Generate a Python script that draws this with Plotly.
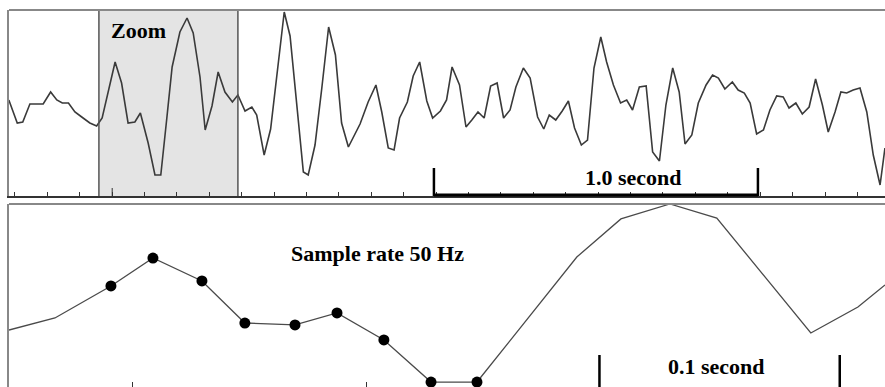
import plotly.graph_objects as go

# ---------------- data (seconds, arbitrary amplitude units) ----------------
wave_t = [-0.019, 0.007, 0.024, 0.046, 0.087, 0.110, 0.129, 0.146, 0.165, 0.185,
          0.206, 0.231, 0.252, 0.269, 0.309, 0.329, 0.349, 0.370, 0.387, 0.411,
          0.432, 0.450, 0.468, 0.485, 0.509, 0.531, 0.550, 0.571, 0.587, 0.608,
          0.627, 0.648, 0.671, 0.688, 0.710, 0.731, 0.746, 0.769, 0.789, 0.808,
          0.831, 0.849, 0.869, 0.890, 0.905, 0.926, 0.947, 0.968, 0.989, 1.008,
          1.029, 1.065, 1.090, 1.114, 1.132, 1.152, 1.170, 1.187, 1.211, 1.229,
          1.249, 1.271, 1.289, 1.313, 1.332, 1.349, 1.372, 1.392, 1.410, 1.429,
          1.448, 1.468, 1.488, 1.508, 1.528, 1.546, 1.569, 1.590, 1.613, 1.632,
          1.649, 1.669, 1.689, 1.708, 1.727, 1.748, 1.767, 1.787, 1.808, 1.826,
          1.847, 1.869, 1.888, 1.906, 1.927, 1.948, 1.968, 1.989, 2.009, 2.030,
          2.050, 2.068, 2.089, 2.109, 2.133, 2.153, 2.171, 2.191, 2.214, 2.232,
          2.251, 2.269, 2.289, 2.310, 2.330, 2.351, 2.371, 2.389, 2.410, 2.430,
          2.451, 2.471, 2.492, 2.510, 2.531, 2.549, 2.567, 2.587, 2.608, 2.629,
          2.649, 2.670, 2.685]
wave_amp = [0.00, -0.23, -0.22, -0.04, -0.04, 0.08, 0.00, -0.03, -0.03, -0.12,
            -0.17, -0.23, -0.26, -0.18, 0.38, 0.17, -0.23, -0.22, -0.13, -0.43,
            -0.75, -0.75, -0.20, 0.33, 0.68, 0.82, 0.67, 0.23, -0.30, -0.06,
            0.28, 0.08, -0.02, 0.05, -0.11, -0.07, -0.15, -0.55, -0.29, 0.26,
            0.88, 0.64, -0.05, -0.72, -0.75, -0.45, 0.12, 0.73, 0.45, -0.23,
            -0.47, -0.24, -0.02, 0.15, -0.12, -0.48, -0.50, -0.18, -0.02, 0.24,
            0.38, -0.01, -0.18, -0.11, 0.00, 0.33, 0.15, -0.27, -0.20, -0.12,
            -0.18, 0.14, 0.17, -0.18, -0.10, 0.13, 0.32, 0.22, -0.17, -0.29,
            -0.15, -0.20, -0.11, -0.01, -0.28, -0.45, -0.40, 0.32, 0.63, 0.38,
            0.15, -0.03, 0.00, -0.10, 0.13, 0.14, -0.52, -0.61, -0.05, 0.32,
            0.08, -0.44, -0.35, -0.03, 0.15, 0.25, 0.22, 0.11, 0.18, 0.10,
            0.07, -0.03, -0.34, -0.30, -0.10, 0.04, 0.03, -0.08, -0.03, -0.14,
            -0.07, 0.21, -0.05, -0.32, -0.12, 0.08, 0.07, 0.10, 0.12, -0.12,
            -0.55, -0.85, -0.48]

zoom_t = [0.2469, 0.2666, 0.2906, 0.3086, 0.3296, 0.3480, 0.3695, 0.3875, 0.4076,
          0.4278, 0.4475, 0.4903, 0.5092, 0.5302, 0.5503, 0.5906, 0.6108, 0.6224]
zoom_amp = [-0.295, -0.188, 0.095, 0.342, 0.139, -0.233, -0.250, -0.144, -0.383,
            -0.755, -0.755, 0.351, 0.688, 0.820, 0.696, -0.321, -0.091, 0.104]
zoom_marked = [False, False, True, True, True, True, True, True, True,
               True, True, False, False, False, False, False, False, False]

zoom_window = [0.259, 0.688]          # shaded region in the overview
top_ticks = [round(0.1 * i, 1) for i in range(27)]
bottom_ticks = [0.3, 0.4]
second_bar = [1.293, 2.293]           # 1.0 second scale bar
tenth_bar = [0.500, 0.603]            # 0.1 second scale bar

top_range = [-0.96, 0.90]
top_xrange = [-0.0185, 2.6852]
bot_range = [-0.799, 0.820]
bot_xrange = [0.2469, 0.6224]

# ---------------- figure ----------------
W, H = 885, 387
FONT = dict(family="Liberation Serif, Times New Roman, serif", size=22,
            color="black", weight="bold")

fig = go.Figure()
fig.add_trace(go.Scatter(x=wave_t, y=wave_amp, mode="lines",
                         line=dict(color="#3a3a3a", width=1.6),
                         xaxis="x", yaxis="y", hoverinfo="skip", showlegend=False))
fig.add_trace(go.Scatter(x=zoom_t, y=zoom_amp, mode="lines",
                         line=dict(color="#4a4a4a", width=1.3),
                         xaxis="x2", yaxis="y2", hoverinfo="skip", showlegend=False))
fig.add_trace(go.Scatter(x=[t for t, m in zip(zoom_t, zoom_marked) if m],
                         y=[a for a, m in zip(zoom_amp, zoom_marked) if m],
                         mode="markers", marker=dict(color="black", size=11),
                         xaxis="x2", yaxis="y2", hoverinfo="skip", showlegend=False))

x_dom = [9 / W, 1]
top_dom = [1 - 196 / H, 1 - 10 / H]
bot_dom = [0, 1 - 204 / H]

fig.update_layout(
    width=W, height=H, margin=dict(l=0, r=0, t=0, b=0),
    paper_bgcolor="white", plot_bgcolor="white",
    xaxis=dict(domain=x_dom, range=top_xrange, showgrid=False, zeroline=False,
               showline=True, linecolor="#333", linewidth=1.5,
               tickmode="array", tickvals=top_ticks, ticks="inside", ticklen=4,
               tickcolor="#333", tickwidth=1, showticklabels=False, anchor="y"),
    yaxis=dict(domain=top_dom, range=top_range, showgrid=False, zeroline=False,
               showline=True, linecolor="#888", linewidth=2, showticklabels=False,
               ticks="", anchor="x"),
    xaxis2=dict(domain=x_dom, range=bot_xrange, showgrid=False, zeroline=False,
                showline=False, tickmode="array", tickvals=bottom_ticks,
                ticks="inside", ticklen=5, tickcolor="#333", tickwidth=1,
                showticklabels=False, anchor="y2"),
    yaxis2=dict(domain=bot_dom, range=bot_range, showgrid=False, zeroline=False,
                showline=True, linecolor="#888", linewidth=2, showticklabels=False,
                ticks="", anchor="x2"),
)

shapes = [
    # zoom window
    dict(type="rect", xref="x", yref="y domain", x0=zoom_window[0], x1=zoom_window[1],
         y0=0, y1=1, fillcolor="#e4e4e4", line=dict(width=0), layer="below"),
    dict(type="line", xref="x", yref="y domain", x0=zoom_window[0], x1=zoom_window[0],
         y0=0, y1=1, line=dict(color="#555", width=1.5)),
    dict(type="line", xref="x", yref="y domain", x0=zoom_window[1], x1=zoom_window[1],
         y0=0, y1=1, line=dict(color="#555", width=1.5)),
    # panel top borders
    dict(type="line", xref="x domain", yref="y domain", x0=0, x1=1, y0=1, y1=1,
         line=dict(color="#888", width=2)),
    dict(type="line", xref="x2 domain", yref="y2 domain", x0=0, x1=1, y0=1, y1=1,
         line=dict(color="#888", width=2)),
    # longer tick at start of zoom
    dict(type="line", xref="x", yref="y", x0=0.3, x1=0.3, y0=top_range[0], y1=-0.88,
         line=dict(color="#333", width=1)),
    # 1.0 second bar
    dict(type="line", xref="x", yref="y domain", x0=second_bar[0], x1=second_bar[1],
         y0=0.005, y1=0.005, line=dict(color="black", width=3)),
    dict(type="line", xref="x", yref="y", x0=second_bar[0], x1=second_bar[0],
         y0=top_range[0], y1=-0.68, line=dict(color="black", width=2.5)),
    dict(type="line", xref="x", yref="y", x0=second_bar[1], x1=second_bar[1],
         y0=top_range[0], y1=-0.68, line=dict(color="black", width=2.5)),
    # 0.1 second bar ends
    dict(type="line", xref="x2", yref="y2", x0=tenth_bar[0], x1=tenth_bar[0],
         y0=bot_range[0], y1=-0.516, line=dict(color="black", width=2.5)),
    dict(type="line", xref="x2", yref="y2", x0=tenth_bar[1], x1=tenth_bar[1],
         y0=bot_range[0], y1=-0.516, line=dict(color="black", width=2.5)),
]
fig.update_layout(shapes=shapes)

annotations = [
    dict(text="Zoom", x=0.380, y=0.70, xref="x", yref="y", showarrow=False, font=FONT),
    dict(text="1.0 second", x=1.910, y=-0.77, xref="x", yref="y", showarrow=False,
         font=FONT),
    dict(text="Sample rate 50 Hz", x=0.405, y=0.378, xref="x2", yref="y2",
         showarrow=False, font=FONT),
    dict(text="0.1 second", x=0.5503, y=-0.622, xref="x2", yref="y2", showarrow=False,
         font=FONT),
]
fig.update_layout(annotations=annotations)

fig.write_html("out.html")
